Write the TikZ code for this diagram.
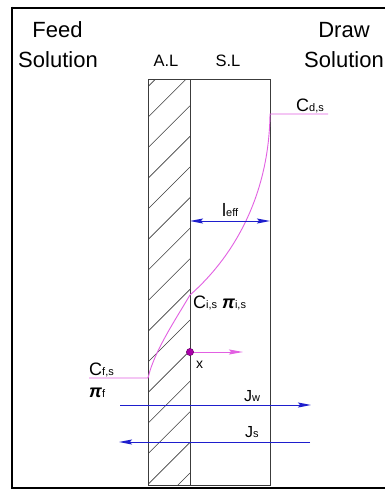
\documentclass[tikz,border=0pt]{standalone}
\usepackage{fontspec}
\setmainfont{Liberation Sans}
\usetikzlibrary{arrows.meta}
\definecolor{pinkline}{RGB}{226,96,226}
\definecolor{dotfill}{RGB}{170,0,170}
\definecolor{dotedge}{RGB}{110,0,110}
\definecolor{flowblue}{RGB}{30,30,205}
\definecolor{memline}{RGB}{60,60,60}
\newcommand{\sbs}[1]{{\fontsize{11}{11}\selectfont #1}}
\newcommand{\gpi}{{\bfseries\itshape π}}
\tikzset{
  bigtxt/.style={font=\fontsize{22}{26}\selectfont, inner sep=0pt, anchor=base},
  laytxt/.style={font=\fontsize{16.5}{18}\selectfont, inner sep=0pt, anchor=base},
  lbl/.style={font=\fontsize{18}{20}\selectfont, inner sep=0pt, anchor=base west},
  memb/.style={draw=memline, line width=0.8pt},
  hatch/.style={draw=memline, line width=0.6pt},
  prof/.style={draw=pinkline, line width=0.9pt},
  flow/.style={draw=flowblue, line width=1pt, -{Stealth[length=13pt,width=5pt,inset=2pt]}},
  dim/.style={draw=flowblue, line width=1pt, {Stealth[length=13pt,width=5pt,inset=2pt]}-{Stealth[length=13pt,width=5pt,inset=2pt]}},
  xarrow/.style={draw=pinkline, line width=1pt, -{Stealth[length=14pt,width=5pt,inset=2pt]}},
  frame/.style={draw=black, line width=2.6pt}
}
\begin{document}
\begin{tikzpicture}[x=1pt,y=-1pt]
\useasboundingbox (0,0) rectangle (385,491);
\fill[white] (0,0) rectangle (385,491);
% frame
\draw[frame] (12,8) -- (385,8);
\draw[frame] (12,488) -- (385,488);
\draw[frame] (12,6.7) -- (12,489.3);

% titles
\node[bigtxt] (feed) at (57.5,37) {Feed};
\node[bigtxt] (solL) at (58,67) {Solution};
\node[bigtxt] (draw) at (344,37) {Draw};
\node[bigtxt] (solR) at (344,67) {Solution};
\node[laytxt] (al) at (166,66) {A.L};
\node[laytxt] (sl) at (228,66) {S.L};

% hatching of active layer
\begin{scope}
\clip (148,79) rectangle (190,485);
\foreach \k in {0,...,14}{
  \pgfmathsetmacro{\c}{44.6+30.6*\k}
  \draw[hatch] (190,\c) -- (148,\c+42);
}
\end{scope}
% membrane
\draw[memb] (148,79) rectangle (190,485);
\draw[memb] (190,79) rectangle (270,485);

% concentration profile
\coordinate (ds) at (270,114);
\coordinate (dsend) at (328,114);
\coordinate (is) at (190,295);
\coordinate (fs) at (148,378);
\coordinate (fsend) at (89,378);
\draw[prof] (dsend) -- (ds) .. controls (269,200) and (230,260) .. (is)
  .. controls (174,322) and (154,352) .. (fs) -- (fsend);

% labels
\node[lbl] (cds) at (296,111) {C\sbs{d,s}};
\node[lbl] (cis) at (193,308) {C\sbs{i,s} \gpi\sbs{i,s}};
\node[lbl] (cfs) at (89,375) {C\sbs{f,s}};
\node[lbl] (pif) at (89,397) {\gpi\sbs{f}};

% l_eff
\coordinate (la) at (190,221);
\coordinate (lb) at (270,221);
\draw[dim] (la) -- (lb);
\node[lbl] (leff) at (222,216) {l\sbs{eff}};

% x point
\coordinate (xp) at (190,352);
\coordinate (xe) at (243,352);
\draw[xarrow] (xp) -- (xe);
\filldraw[fill=dotfill, draw=dotedge, line width=0.5pt] (xp) circle (3.6);
\node[font=\fontsize{14}{15}\selectfont, inner sep=0pt, anchor=base west] (xl) at (196,368) {x};

% fluxes
\coordinate (jw1) at (120,405);
\coordinate (jw2) at (311,405);
\draw[flow] (jw1) -- (jw2);
\node[font=\fontsize{16}{18}\selectfont, inner sep=0pt, anchor=base west] (jw) at (244,401) {J\sbs{w}};
\coordinate (js1) at (310,442);
\coordinate (js2) at (119,442);
\draw[flow] (js1) -- (js2);
\node[font=\fontsize{16}{18}\selectfont, inner sep=0pt, anchor=base west] (js) at (245,437) {J\sbs{s}};
\end{tikzpicture}
\end{document}
